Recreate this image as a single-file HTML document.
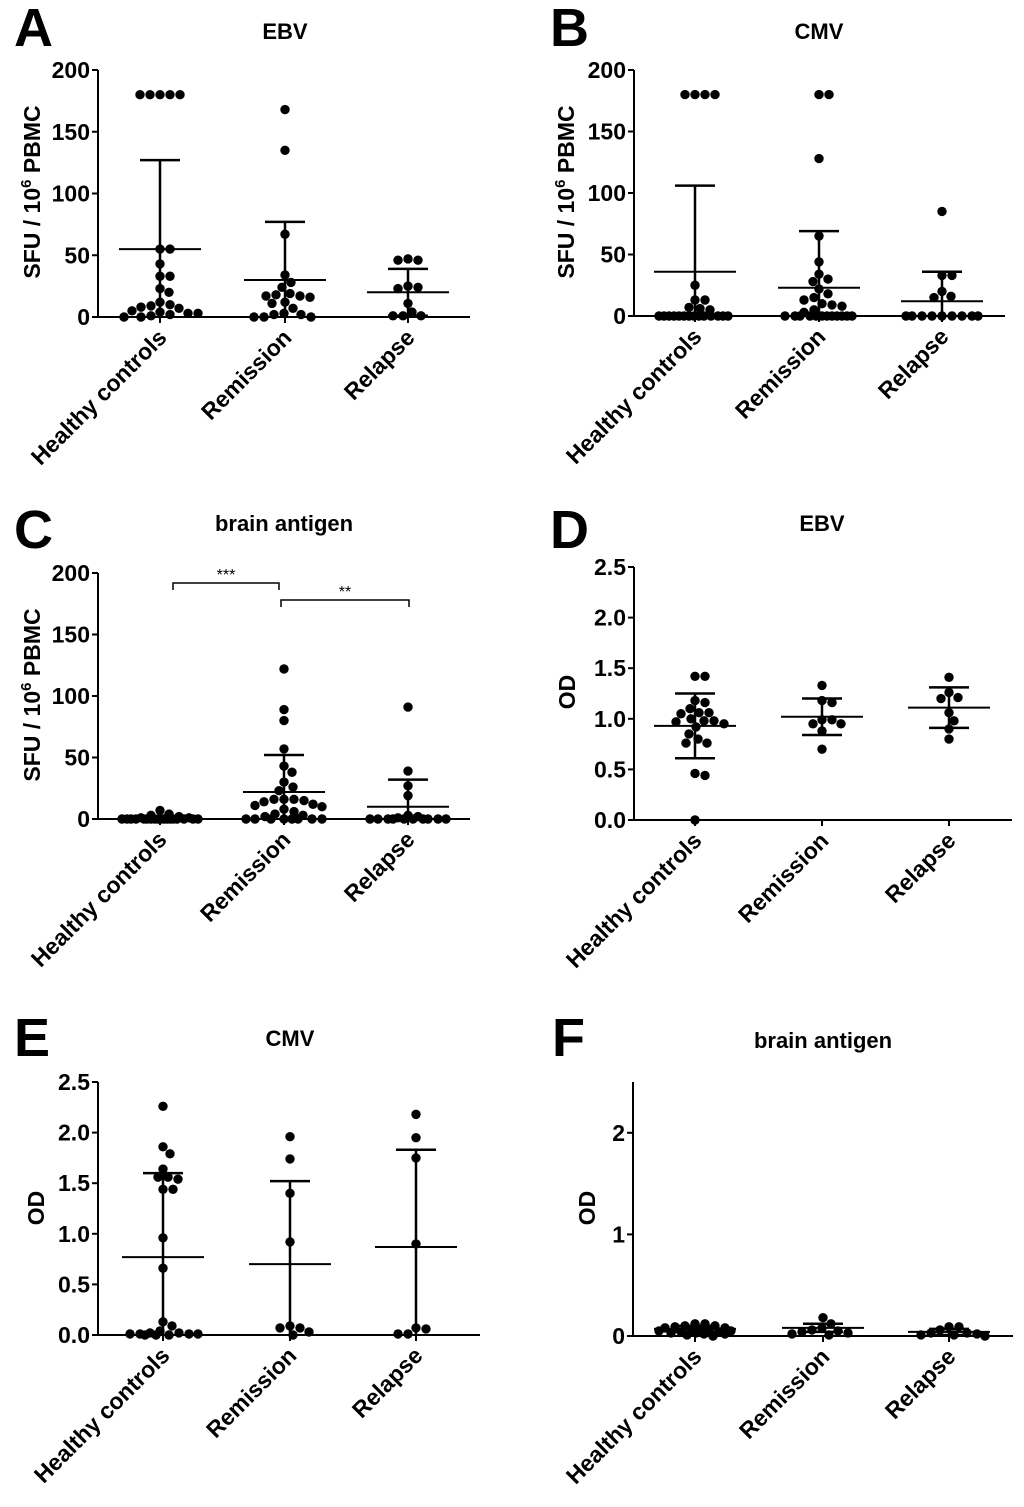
<!DOCTYPE html>
<html><head><meta charset="utf-8"><style>
html,body{margin:0;padding:0;background:#fff;}
svg{display:block;font-family:"Liberation Sans",Arial,sans-serif;}
</style></head><body>
<svg id="fig" width="1024" height="1507" viewBox="0 0 1024 1507"></svg>
<script>
const groups = ["Healthy controls","Remission","Relapse"];
// Panel A: EBV SFU
const aHC = [180,180,180,180,180,55,55,43,33,33,23,20,12,10,9,8,7,5,4,3,3,2,1,0,0];
const aRem = [168,135,67,34,28,24,19,18,17,17,16,12,11,7,3,2,2,0,0,0];
const aRel = [47,46,46,25,24,23,11,4,1,1,1];
const aMean = [55,30,20];
const aSD = [72,47,19];
// Panel B: CMV SFU
const bHC = [180,180,180,180,25,13,13,7,6,5,0,0,0,0,0,0,0,0,0,0,0,0,0,0];
const bRem = [180,180,128,65,44,34,30,28,22,18,15,13,10,9,8,5,3,0,0,0,0,0,0,0,0,0,0,0,0];
const bRel = [85,33,33,20,16,15,0,0,0,0,0,0,0,0,0];
const bMean = [36,23,12];
const bSD = [70,46,24];
// Panel C: brain antigen SFU
const cHC = [7,4,3,2,1,1,0,0,0,0,0,0,0,0,0,0,0,0,0,0,0,0,0,0];
const cRem = [122,89,80,57,43,38,30,26,23,16,16,16,15,14,12,11,10,8,6,4,3,2,0,0,0,0,0,0,0,0];
const cRel = [91,39,27,19,3,2,1,0,0,0,0,0,0,0,0,0,0];
const cMean = [0.5,22,10];
const cSD = [1.5,30,22];
// Panel D: EBV OD
const dHC = [1.42,1.42,1.18,1.16,1.10,1.06,1.06,1.05,1.00,0.98,0.98,0.97,0.95,0.92,0.85,0.80,0.76,0.76,0.46,0.44,0.0];
const dRem = [1.33,1.18,1.16,0.99,0.99,0.95,0.95,0.88,0.70];
const dRel = [1.41,1.26,1.21,1.20,1.06,0.98,0.90,0.80];
const dMean = [0.93,1.02,1.11];
const dSD = [0.32,0.18,0.20];
// Panel E: CMV OD
const eHC = [2.26,1.86,1.79,1.64,1.56,1.56,1.54,1.44,1.44,0.96,0.66,0.13,0.09,0.04,0.02,0.02,0.01,0.01,0.01,0.01,0.0,0.0,0.0];
const eRem = [1.96,1.74,1.40,0.92,0.09,0.07,0.07,0.03,0.0];
const eRel = [2.18,1.95,1.75,0.90,0.07,0.06,0.01,0.01];
const eMean = [0.77,0.70,0.87];
const eSD = [0.83,0.82,0.96];
// Panel F: brain antigen OD
const fHC = [0.12,0.12,0.10,0.10,0.09,0.08,0.08,0.07,0.06,0.06,0.05,0.05,0.04,0.04,0.03,0.03,0.02,0.02,0.01,0.0];
const fRem = [0.18,0.12,0.08,0.06,0.05,0.04,0.03,0.02,0.01];
const fRel = [0.09,0.09,0.06,0.03,0.03,0.02,0.01,0.01,0.0];
const fMean = [0.07,0.08,0.04];
const fSD = [0.03,0.04,0.03];

const sfuTicks = [0,50,100,150,200];
const odTicks = [0.0,0.5,1.0,1.5,2.0,2.5];
const odTicksF = [0,1,2];

const NS='http://www.w3.org/2000/svg';
const svg=document.getElementById('fig');
function mk(tag,attrs,parent){const e=document.createElementNS(NS,tag);for(const k in attrs)e.setAttribute(k,attrs[k]);(parent||svg).appendChild(e);return e;}

function panel(cfg){
  const g=mk('g',{});
  
  
  const y=v=>cfg.y0-(v-cfg.vmin)/(cfg.vmax-cfg.vmin)*(cfg.y0-cfg.yTop);
  const L=mk('text',{x:cfg.lx,y:cfg.ly,'font-size':54,'font-weight':'bold'},g);L.textContent=cfg.letter;
  
  
  const T=mk('text',{x:cfg.gx[1],y:cfg.ty,'font-size':22,'font-weight':'bold','text-anchor':'middle'},g);T.textContent=cfg.title;
  
  
  const ya=mk('line',{x1:cfg.ax,x2:cfg.ax,y1:cfg.yTop,y2:cfg.y0+1,stroke:'#000','stroke-width':2},g);
  
  
  const xa=mk('line',{x1:cfg.ax-6,x2:cfg.xEnd,y1:cfg.y0,y2:cfg.y0,stroke:'#000','stroke-width':2},g);
  
  
  cfg.ticks.forEach(t=>{
    mk('line',{x1:cfg.ax-6,x2:cfg.ax,y1:y(t),y2:y(t),stroke:'#000','stroke-width':2},g);
    const tl=mk('text',{x:cfg.ax-8,y:y(t)+8,'font-size':23,'font-weight':'bold','text-anchor':'end'},g);
    tl.textContent=cfg.fmt(t);
    
    
  });
  const yt=mk('text',{transform:`translate(${cfg.ytx},${cfg.yty}) rotate(-90)`,'font-size':23,'font-weight':'bold','text-anchor':'middle'},g);
  if(cfg.sfu){yt.innerHTML='SFU / 10<tspan dy="-9" font-size="15">6</tspan><tspan dy="9"> PBMC</tspan>';}else yt.textContent='OD';
  
  
  cfg.sets.forEach((vals,gi)=>{
    const cx=cfg.gx[gi];
    mk('line',{x1:cx,x2:cx,y1:cfg.y0,y2:cfg.y0+6,stroke:'#000','stroke-width':2},g);
    const xl=mk('text',{transform:`translate(${cx+8},${cfg.y0+22}) rotate(-45)`,'font-size':23,'font-weight':'bold','text-anchor':'end'},g);
    xl.textContent=groups[gi];
    
    
    const W=cfg.W;
    const cands=[];
    for(let o=0;o<=W;o+=1){cands.push(o);if(o)cands.push(-o);}
    const placed=[];
    const sorted=vals.slice().sort((a,b)=>b-a);
    sorted.forEach(v=>{
      const py=y(v);let off=null,best=-1,bestO=0;
      for(const o of cands){
        let md=Infinity;placed.forEach(p=>{md=Math.min(md,Math.hypot(p[0]-(cx+o),p[1]-py));});
        if(md>=9.5){off=o;break;}
        if(md>best){best=md;bestO=o;}
      }
      if(off===null)off=bestO;
      placed.push([cx+off,py]);
      const c=mk('circle',{cx:cx+off,cy:py,r:4.7,fill:'#000'},g);
      
      
    });
    const m=cfg.means[gi],s=cfg.sds[gi];
    const top=y(m+s),bot=y(Math.max(cfg.vmin,m-s));
    const eb=mk('line',{x1:cx,x2:cx,y1:top,y2:bot,stroke:'#000','stroke-width':2.5},g);
    
    
    mk('line',{x1:cx-20,x2:cx+20,y1:top,y2:top,stroke:'#000','stroke-width':2.5},g);
    if(m-s>cfg.vmin) mk('line',{x1:cx-20,x2:cx+20,y1:bot,y2:bot,stroke:'#000','stroke-width':2.5},g);
    const ml=mk('line',{x1:cx-41,x2:cx+41,y1:y(m),y2:y(m),stroke:'#000','stroke-width':2},g);
    
    
  });
  return g;
}
const f0=v=>String(v), f1=v=>v.toFixed(1);
panel({letter:'A',lx:14,ly:46,title:'EBV',ty:39,ax:98,y0:317,yTop:70,vmin:0,vmax:200,xEnd:470,gx:[160,285,408],W:40,ticks:sfuTicks,fmt:f0,sfu:true,ytx:40,yty:192,sets:[aHC,aRem,aRel],means:aMean,sds:aSD});
panel({letter:'B',lx:550,ly:46,title:'CMV',ty:39,ax:634,y0:316,yTop:70,vmin:0,vmax:200,xEnd:1005,gx:[695,819,942],W:36,ticks:sfuTicks,fmt:f0,sfu:true,ytx:574,yty:192,sets:[bHC,bRem,bRel],means:bMean,sds:bSD});
panel({letter:'C',lx:14,ly:548,title:'brain antigen',ty:531,ax:98,y0:819,yTop:573,vmin:0,vmax:200,xEnd:470,gx:[160,284,408],W:38,ticks:sfuTicks,fmt:f0,sfu:true,ytx:40,yty:695,sets:[cHC,cRem,cRel],means:cMean,sds:cSD});
panel({letter:'D',lx:550,ly:548,title:'EBV',ty:531,ax:634,y0:820,yTop:567,vmin:0,vmax:2.5,xEnd:1012,gx:[695,822,949],W:32,ticks:odTicks,fmt:f1,sfu:false,ytx:575,yty:692,sets:[dHC,dRem,dRel],means:dMean,sds:dSD});
panel({letter:'E',lx:14,ly:1056,title:'CMV',ty:1046,ax:98,y0:1335,yTop:1082,vmin:0,vmax:2.5,xEnd:480,gx:[163,290,416],W:35,ticks:odTicks,fmt:f1,sfu:false,ytx:44,yty:1208,sets:[eHC,eRem,eRel],means:eMean,sds:eSD});
panel({letter:'F',lx:552,ly:1056,title:'brain antigen',ty:1048,ax:633,y0:1336,yTop:1082,vmin:0,vmax:2.5,xEnd:1013,gx:[695,823,949],W:36,ticks:odTicksF,fmt:f0,sfu:false,ytx:595,yty:1208,sets:[fHC,fRem,fRel],means:fMean,sds:fSD});

function bracket(x1,x2,yy,label,name){
  const p=mk('path',{d:`M${x1},${yy+7} V${yy} H${x2} V${yy+7}`,fill:'none',stroke:'#000','stroke-width':1.5});
  
  
  const t=mk('text',{x:(x1+x2)/2,y:yy-3,'font-size':16,'text-anchor':'middle'});
  t.textContent=label;
  
  
}
bracket(173,279,583,'***','significance-bracket-hc-rem');
bracket(281,409,600,'**','significance-bracket-rem-rel');
</script>
</body></html>
